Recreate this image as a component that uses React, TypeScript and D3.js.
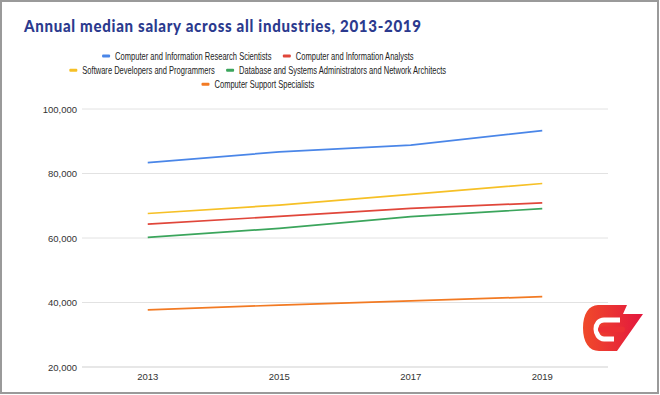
import { useEffect, useRef } from 'react';
import * as d3 from 'd3';

const years = ['2013', '2015', '2017', '2019'];
const seriesNames = [
  'Computer and Information Research Scientists',
  'Computer and Information Analysts',
  'Software Developers and Programmers',
  'Database and Systems Administrators and Network Architects',
  'Computer Support Specialists',
];
const researchScientists = [83400, 86700, 88800, 93300];
const infoAnalysts = [64300, 66700, 69200, 70900];
const softwareDevs = [67600, 70200, 73500, 76900];
const dbAdmins = [60200, 63000, 66600, 69100];
const supportSpecialists = [37700, 39200, 40500, 41800];
const yTicks = [20000, 40000, 60000, 80000, 100000];
const colors = ['#4a86e8', '#e0463a', '#f6c026', '#3ba55c', '#f27a23'];
const legendRows = [[0, 1], [2, 3], [4]];

export default function App() {
  const ref = useRef<SVGSVGElement>(null);

  useEffect(() => {
    const svg = d3.select(ref.current);
    svg.selectAll('*').remove();
    const width = 660;
    const height = 395;
    const margin = { left: 82, right: 52, top: 109, bottom: 28 };

    const values = [researchScientists, infoAnalysts, softwareDevs, dbAdmins, supportSpecialists];

    // frame
    svg.append('rect')
      .attr('x', 1).attr('y', 1)
      .attr('width', width - 3).attr('height', height - 3)
      .attr('fill', '#fff').attr('stroke', '#9a9a9a').attr('stroke-width', 2);

    // title - narrow glyphs, wide tracking
    const titleSqueeze = 0.86;
    svg.append('text')
      .attr('transform', `translate(24,32) scale(${titleSqueeze},1)`)
      .attr('font-family', 'Lato, "Open Sans", sans-serif')
      .attr('font-weight', 900)
      .attr('font-size', 17.5)
      .attr('fill', '#2b3a8e')
      .attr('textLength', 397 / titleSqueeze)
      .attr('lengthAdjust', 'spacing')
      .text('Annual median salary across all industries, 2013-2019');

    const x = d3.scalePoint()
      .domain(years)
      .range([margin.left, width - margin.right])
      .padding(0.5);

    const y = d3.scaleLinear()
      .domain([20000, 100000])
      .range([height - margin.bottom, margin.top]);

    // grid + y labels
    const grid = svg.append('g');
    grid.selectAll('line')
      .data(yTicks)
      .join('line')
      .attr('x1', margin.left).attr('x2', width - margin.right)
      .attr('y1', d => y(d)).attr('y2', d => y(d))
      .attr('stroke', d => (d === 20000 ? '#cfcfcf' : '#e2e2e2'))
      .attr('stroke-width', 1);
    grid.selectAll('text')
      .data(yTicks)
      .join('text')
      .attr('x', margin.left - 5)
      .attr('y', d => y(d) + 3.5)
      .attr('text-anchor', 'end')
      .attr('font-family', '"Liberation Sans", Arial, sans-serif')
      .attr('font-size', 9.5)
      .attr('fill', '#333')
      .text(d => d3.format(',')(d));

    // x labels
    svg.append('g')
      .selectAll('text')
      .data(years)
      .join('text')
      .attr('x', d => x(d)!)
      .attr('y', height - margin.bottom + 13)
      .attr('text-anchor', 'middle')
      .attr('font-family', '"Liberation Sans", Arial, sans-serif')
      .attr('font-size', 9.5)
      .attr('fill', '#333')
      .text(d => d);

    // lines
    const line = d3.line<number>()
      .x((d, i) => x(years[i])!)
      .y(d => y(d));
    svg.append('g')
      .selectAll('path')
      .data(values)
      .join('path')
      .attr('d', d => line(d))
      .attr('fill', 'none')
      .attr('stroke', (d, i) => colors[i])
      .attr('stroke-width', 1.7)
      .attr('stroke-linejoin', 'round');

    // legend, rows centred, text squeezed horizontally like the original
    const squeeze = 0.72;
    const legend = svg.append('g');
    const rowY = [56, 70.3, 84.3];
    const centerX = 258;
    legendRows.forEach((row, r) => {
      const items = row.map(idx => {
        const t = legend.append('text')
          .attr('font-family', '"Liberation Sans", Arial, sans-serif')
          .attr('font-size', 10.5)
          .attr('fill', '#222')
          .text(seriesNames[idx]);
        const w = (t.node() as SVGTextElement).getComputedTextLength() * squeeze;
        return { idx, t, w };
      });
      const swatch = 8, gapSw = 5, gapItem = 11;
      const total = d3.sum(items, d => swatch + gapSw + d.w) + gapItem * (items.length - 1);
      let cx = centerX - total / 2;
      items.forEach(it => {
        legend.append('rect')
          .attr('x', cx).attr('y', rowY[r] - 1.5)
          .attr('width', swatch).attr('height', 3)
          .attr('rx', 1)
          .attr('fill', colors[it.idx]);
        it.t.attr('transform', `translate(${cx + swatch + gapSw},${rowY[r] + 3.7}) scale(${squeeze},1)`);
        cx += swatch + gapSw + it.w + gapItem;
      });
    });

    // logo
    const defs = svg.append('defs');
    const grad = defs.append('linearGradient')
      .attr('id', 'logoGrad')
      .attr('x1', '0').attr('y1', '0').attr('x2', '1').attr('y2', '0');
    grad.append('stop').attr('offset', '0').attr('stop-color', '#f04a2a');
    grad.append('stop').attr('offset', '1').attr('stop-color', '#e3173e');
    const logo = svg.append('g').attr('transform', 'translate(571,298)');
    logo.append('path')
      .attr('d', 'M27,7 L56,7 L52,16 L72,16 L46,53 L28,53 C18,53 12,44 12,30 C12,16 18,7 27,7 Z')
      .attr('fill', 'url(#logoGrad)');
    logo.append('path')
      .attr('d', 'M49,22 L33,22 C28,22 25,26 25,31 C25,36 28,41 33,41 L43,41')
      .attr('fill', 'none')
      .attr('stroke', '#fff')
      .attr('stroke-width', 5);
    logo.append('path')
      .attr('d', 'M30,31.5 L51,31.5')
      .attr('stroke', '#ec2f34')
      .attr('stroke-width', 6)
      .attr('stroke-linecap', 'round');
  }, []);

  return (
    <svg
      ref={ref}
      width={660}
      height={395}
      style={{ position: 'absolute', left: 0, top: 0, background: '#fff' }}
    />
  );
}
